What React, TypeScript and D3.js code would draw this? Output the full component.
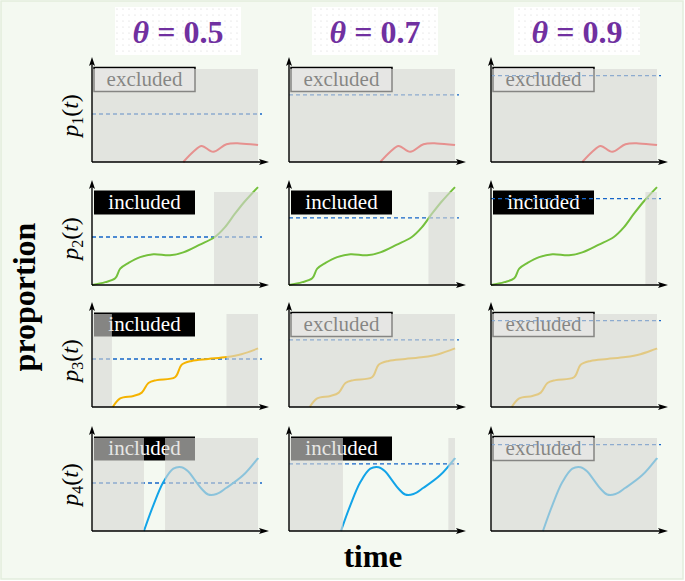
import React from 'react';
import * as d3 from 'd3';

// thresholds per column
const thetas = [0.5, 0.7, 0.9];
const rowSubs = ['1', '2', '3', '4'];

// curves (t in 0..1, value in 0..1)
const p1T = [0.55, 0.61, 0.66, 0.73, 0.81, 0.89, 1.0];
const p1V = [0, 0.107, 0.167, 0.107, 0.185, 0.194, 0.177];

const p2T = [0, 0.08, 0.14, 0.17, 0.22, 0.29, 0.37, 0.47, 0.55, 0.65, 0.74, 0.8, 0.86, 0.92, 1.0];
const p2V = [0, 0.03, 0.07, 0.17, 0.23, 0.29, 0.32, 0.31, 0.34, 0.42, 0.5, 0.6, 0.74, 0.87, 1.02];

const p3T = [0.125, 0.17, 0.25, 0.3, 0.34, 0.39, 0.5, 0.54, 0.6, 0.7, 0.81, 0.9, 1.0];
const p3V = [0, 0.09, 0.115, 0.15, 0.25, 0.28, 0.31, 0.44, 0.48, 0.5, 0.52, 0.55, 0.61];

const p4T = [0.313, 0.37, 0.43, 0.49, 0.54, 0.58, 0.62, 0.66, 0.7, 0.75, 0.81, 0.91, 1.0];
const p4V = [0, 0.27, 0.51, 0.65, 0.665, 0.62, 0.53, 0.44, 0.38, 0.385, 0.45, 0.58, 0.76];

const curveT = [p1T, p2T, p3T, p4T];
const curveV = [p1V, p2V, p3V, p4V];
const curveColors = ['#ff2020', '#74c03c', '#f5b300', '#12a4e8'];

// excluded time intervals [row][col]
const excluded: number[][][][] = [
  [[[0, 1]], [[0, 1]], [[0, 1]]],
  [[[0.735, 1]], [[0.84, 1]], [[0.93, 1]]],
  [[[0, 0.12], [0.81, 1]], [[0, 1]], [[0, 1]]],
  [[[0, 0.313], [0.44, 1]], [[0, 0.325], [0.96, 1]], [[0, 1]]],
];

// layout
const W = 685;
const H = 581;
const colAxisX = [92, 289, 491];
const rowAxisY = [162, 285, 407, 531];
const plotW = 166;
const plotH = 93;
const unitH = 96;
const serif = '"Liberation Serif", "DejaVu Serif", serif';

const Panel = ({ row, col }: { row: number; col: number }) => {
  const ax = colAxisX[col];
  const ay = rowAxisY[row];
  const x = d3.scaleLinear().domain([0, 1]).range([ax, ax + plotW]);
  const y = d3.scaleLinear().domain([0, 1]).range([ay, ay - unitH]);
  const top = ay - plotH;
  const pts = curveT[row].map((t, i) => [t, curveV[row][i]] as [number, number]);
  const line = d3
    .line<[number, number]>()
    .x(d => x(d[0]))
    .y(d => y(d[1]))
    .curve(d3.curveCatmullRom.alpha(0.5));
  const ex = excluded[row][col];
  const full = ex.length === 1 && ex[0][0] === 0 && ex[0][1] === 1;
  const th = y(thetas[col]);

  return (
    <g>
      {/* label box */}
      <rect
        x={ax + 2}
        y={top - 1.5}
        width={101}
        height={24}
        fill={full ? '#ffffff' : '#000000'}
        stroke="#000"
        strokeWidth={full ? 1.5 : 0}
      />
      <text
        x={ax + 2 + 50.5}
        y={top + 16.5}
        textAnchor="middle"
        fontFamily={serif}
        fontSize={21}
        fill={full ? '#000' : '#fff'}
      >
        {full ? 'excluded' : 'included'}
      </text>
      {/* threshold */}
      <line
        x1={ax}
        x2={ax + plotW + 4}
        y1={th}
        y2={th}
        stroke="#1565c8"
        strokeWidth={1.3}
        strokeDasharray="4,3"
      />
      {/* curve */}
      <path d={line(pts) || ''} fill="none" stroke={curveColors[row]} strokeWidth={2} />
      {/* excluded overlay */}
      {ex.map((iv, i) => (
        <rect
          key={i}
          x={x(iv[0])}
          y={top}
          width={x(iv[1]) - x(iv[0])}
          height={ay - top}
          fill="#d6d6d3"
          fillOpacity={0.62}
        />
      ))}
      {/* axes */}
      <line x1={ax} x2={ax} y1={ay} y2={top - 6} stroke="#000" strokeWidth={1.4} />
      <line x1={ax} x2={ax + plotW + 5} y1={ay} y2={ay} stroke="#000" strokeWidth={1.4} />
      <path
        d={`M${ax},${top - 12} L${ax + 3},${top - 3} L${ax},${top - 5} L${ax - 3},${top - 3} Z`}
        fill="#000"
      />
      <path
        d={`M${ax + plotW + 11},${ay} L${ax + plotW + 1},${ay - 3} L${ax + plotW + 3},${ay} L${ax + plotW + 1},${ay + 3} Z`}
        fill="#000"
      />
    </g>
  );
};

const App = () => {
  const headerCx = colAxisX.map(cx => cx + 86);
  return (
    <div>
      <style>{'body{margin:0}'}</style>
      <svg width={W} height={H} style={{ display: 'block' }}>
        <defs>
          <pattern id="dots" width={6} height={6} patternUnits="userSpaceOnUse">
            <rect width={6} height={6} fill="#ffffff" />
            <circle cx={3} cy={3} r={0.6} fill="#d4d4d4" />
          </pattern>
        </defs>
        <rect x={1} y={1} width={682} height={578} fill="#f4f9f1" stroke="#e2eddc" strokeWidth={1.5} />

        {/* column headers */}
        {thetas.map((t, i) => (
          <g key={i}>
            <rect x={headerCx[i] - 63} y={7} width={126} height={48} fill="url(#dots)" />
            <text
              x={headerCx[i]}
              y={43}
              textAnchor="middle"
              fontFamily={serif}
              fontSize={32}
              fontWeight="bold"
              fill="#7030a0"
            >
              <tspan fontStyle="italic">θ</tspan>
              {' = '}
              {t.toFixed(1)}
            </text>
          </g>
        ))}

        {/* panels */}
        {rowAxisY.map((_, r) =>
          colAxisX.map((__, c) => <Panel key={`${r}-${c}`} row={r} col={c} />)
        )}

        {/* row labels */}
        {rowSubs.map((s, r) => (
          <text
            key={s}
            transform={`translate(78,${rowAxisY[r] - plotH / 2}) rotate(-90)`}
            textAnchor="middle"
            fontFamily={serif}
            fontSize={24}
            fill="#000"
          >
            <tspan fontStyle="italic">p</tspan>
            <tspan fontSize={16} dy={5}>{s}</tspan>
            <tspan dy={-5}>(</tspan>
            <tspan fontStyle="italic">t</tspan>
            <tspan>)</tspan>
          </text>
        ))}

        <text
          transform="translate(35,297) rotate(-90)"
          textAnchor="middle"
          fontFamily={serif}
          fontSize={32}
          fontWeight="bold"
          fill="#000"
        >
          proportion
        </text>
        <text x={373} y={567} textAnchor="middle" fontFamily={serif} fontSize={31} fontWeight="bold" fill="#000">
          time
        </text>
      </svg>
    </div>
  );
};

export default App;
